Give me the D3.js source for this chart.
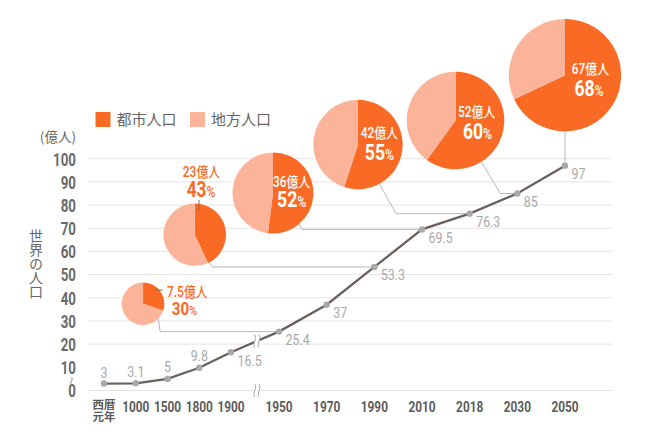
<!DOCTYPE html>
<html><head><meta charset="utf-8">
<script src="https://cdn.jsdelivr.net/npm/d3@7"></script>
<style>body{margin:0;background:#fff}svg{display:block}</style>
</head><body><svg id="c" width="665" height="448"></svg>
<script>
// ---- data ----
const categories = ["西暦元年","1000","1500","1800","1900","1950","1970","1990","2010","2018","2030","2050"];
const population = [3, 3.1, 5, 9.8, 16.5, 25.4, 37, 53.3, 69.5, 76.3, 85, 97];
const valueLabels = ["3","3.1","5","9.8","16.5","25.4","37","53.3","69.5","76.3","85","97"];
const yTicks = [0, 10, 20, 30, 40, 50, 60, 70, 80, 90, 100];
const gridTicks = [0, 20, 30, 40, 50, 60, 70, 80, 90, 100];
const pieYearIndex = [5, 7, 8, 9, 10, 11];
const urbanPop = ["7.5", "23", "36", "42", "52", "67"];
const urbanPct = [30, 43, 52, 55, 60, 68];
const legendLabels = ["都市人口", "地方人口"];

// ---- style / layout ----
const URBAN = "#F96A24", RURAL = "#FBB49A";
const NUM = "Roboto,'Noto Sans CJK JP',sans-serif";
const JP = "'Noto Sans CJK JP',sans-serif";

const svg = d3.select("#c");
const x = d3.scaleLinear().domain([0, 4, 5, 11]).range([104, 231, 279, 565]);
const y = d3.scaleLinear().domain([0, 100]).range([390.5, 158.7]);

// condensed text helper (horizontal squeeze)
function ctext(parent, tx, ty, sx, anchor) {
  return parent.append("text")
    .attr("transform", `translate(${tx},${ty}) scale(${sx},1)`)
    .attr("x", 0).attr("y", 0).attr("text-anchor", anchor);
}

const pieLayout = [
  {ix:1.23, lv:37.4, r:21.3, edge:134, elbowDx:1.7, inside:false,
   l1:[24,-6.7,"start"], l2:[28.7,11.3,"start"], pctSize:19, tick:[[12,-13.7],[19.7,-13.7]]},
  {ix:2.857, lv:67.2, r:31.3, edge:151.6, elbowDx:2.7, inside:false,
   l1:[6.8,-57.7,"middle"], l2:[6.3,-38.2,"middle"], pctSize:21.5, tick:[[4.3,-34.7],[4.3,-24.7]]},
  {ix:4.875, lv:85.2, r:40.5, edge:140, elbowDx:3, inside:true,
   l1:[18.7,-6,"middle"], l2:[18.7,13.5,"middle"], pctSize:22},
  {ix:6.657, lv:106.1, r:44.7, edge:151.4, elbowDx:16.7, inside:true,
   l1:[21.5,-6.2,"middle"], l2:[21.5,15.8,"middle"], pctSize:22},
  {ix:8.703, lv:116.5, r:48.8, edge:148, elbowDx:19, inside:true,
   l1:[21.2,-3.5,"middle"], l2:[22,19,"middle"], pctSize:22},
  {ix:11, lv:136.0, r:56.2, edge:180, elbowDx:0, inside:true,
   l1:[25.5,-1.5,"middle"], l2:[24,20.5,"middle"], pctSize:22}
];

// ---- gridlines ----
svg.append("g").selectAll("line").data(gridTicks).join("line")
  .attr("x1", 88).attr("x2", 612)
  .attr("y1", d => y(d)).attr("y2", d => y(d))
  .attr("stroke", "#e4e4e4").attr("stroke-width", 1);

// ---- y axis labels ----
const ya = svg.append("g");
yTicks.forEach(v => {
  ctext(ya, 76, y(v) + 6.8, 0.72, "end")
    .attr("font-family", NUM).attr("font-weight", "bold").attr("font-size", 18.5)
    .attr("fill", "#6a6a6a").text(v);
});

// axis squiggle below 10
svg.append("path").attr("d", "M0,-4 C2.5,-2 -2.5,2 0,4")
  .attr("transform", `translate(71.5,${y(4.0)})`)
  .attr("fill", "none").attr("stroke", "#8a8a8a").attr("stroke-width", 1);

svg.append("text").attr("x", 76).attr("y", 142).attr("text-anchor", "end")
  .attr("font-family", JP).attr("font-size", 13.5).attr("fill", "#666").text("(億人)");

// vertical title
svg.append("text").attr("x", 36).attr("y", 229)
  .style("writing-mode", "vertical-rl")
  .attr("font-family", JP).attr("font-size", 14).attr("fill", "#666").text("世界の人口");

// ---- x axis labels ----
const xa = svg.append("g");
categories.forEach((d, i) => {
  if (i === 0) {
    [d.slice(0, 2), d.slice(2)].forEach((part, j) => {
      xa.append("text").attr("x", x(i)).attr("y", 409 + j * 12).attr("text-anchor", "middle")
        .attr("font-family", JP).attr("font-weight", "bold").attr("font-size", 11.5)
        .attr("fill", "#5c5c5c").text(part);
    });
  } else {
    ctext(xa, x(i), 411.7, 0.8, "middle")
      .attr("font-family", NUM).attr("font-weight", "bold").attr("font-size", 14.8)
      .attr("fill", "#5c5c5c").text(d);
  }
});

// ---- connectors ----
const conn = svg.append("g");
pieLayout.forEach((p, k) => {
  const cx = x(p.ix), cy = y(p.lv);
  const a = p.edge * Math.PI / 180;
  const sx = cx + p.r * Math.sin(a), sy = cy - p.r * Math.cos(a);
  const idx = pieYearIndex[k];
  const ty = y(population[idx]), tx = x(idx);
  conn.append("path")
    .attr("d", d3.line()([[sx, sy], [sx + p.elbowDx, ty], [tx, ty]]))
    .attr("fill", "none").attr("stroke", "#b9b9b9").attr("stroke-width", 1);
});

// ---- line ----
const pts = population.map((v, i) => [x(i), y(v)]);
svg.append("path").attr("d", d3.line()(pts))
  .attr("fill", "none").attr("stroke", "#6b615c").attr("stroke-width", 2.3);

// break marks
function breakMark(bx, by) {
  const g = svg.append("g").attr("transform", `translate(${bx},${by})`);
  g.append("rect").attr("x", -2.5).attr("y", -7).attr("width", 5).attr("height", 14).attr("fill", "#fff");
  [-2.2, 2.2].forEach(o => g.append("path").attr("d", "M0,-6.5 C3,-3 -3,3 0,6.5")
    .attr("transform", `translate(${o},0)`)
    .attr("fill", "none").attr("stroke", "#a5a5a5").attr("stroke-width", 1));
}
const bIdx = 4.54;
const bx = x(bIdx);
const by = d3.interpolateNumber(y(population[4]), y(population[5]))(bIdx - 4);
breakMark(bx, by);
breakMark(bx, y(0));

// points
svg.append("g").selectAll("circle").data(pts).join("circle")
  .attr("cx", d => d[0]).attr("cy", d => d[1]).attr("r", 3.2).attr("fill", "#a9a9a9");

// value labels
const vl = svg.append("g");
valueLabels.forEach((d, i) => {
  const px = x(i), py = y(population[i]);
  const tx = i < 4 ? px : px + 6.5;
  const ty = i < 4 ? py - (i < 2 ? 6 : 7) : py + 13.5;
  ctext(vl, tx, ty, 0.8, i < 4 ? "middle" : "start")
    .attr("font-family", NUM).attr("font-size", 15.5).attr("fill", "#a8a8a8").text(d);
});

// ---- pies ----
const pie = d3.pie().sort(null).startAngle(0).endAngle(2 * Math.PI);
pieLayout.forEach((p, k) => {
  const cx = x(p.ix), cy = y(p.lv);
  const g = svg.append("g").attr("transform", `translate(${cx},${cy})`);
  const arc = d3.arc().innerRadius(0).outerRadius(p.r);
  g.selectAll("path").data(pie([urbanPct[k], 100 - urbanPct[k]])).join("path")
    .attr("d", arc).attr("fill", (d, i) => i === 0 ? URBAN : RURAL);
  const col = p.inside ? "#fff" : URBAN;
  if (p.tick) g.append("line")
    .attr("x1", p.tick[0][0]).attr("y1", p.tick[0][1])
    .attr("x2", p.tick[1][0]).attr("y2", p.tick[1][1])
    .attr("stroke", "#8a6a5a").attr("stroke-width", 1);
  ctext(g, p.l1[0], p.l1[1], 0.85, p.l1[2])
    .attr("font-family", NUM).attr("font-size", 14).attr("font-weight", 500)
    .attr("fill", col).text(urbanPop[k] + "億人");
  const t2 = ctext(g, p.l2[0], p.l2[1], 0.8, p.l2[2]).attr("font-family", NUM).attr("fill", col);
  t2.append("tspan").attr("font-size", p.pctSize).attr("font-weight", "bold").text(urbanPct[k]);
  t2.append("tspan").attr("font-size", p.pctSize * 0.7).attr("font-weight", 500).text("%");
});

// ---- legend ----
const lg = svg.append("g");
legendLabels.forEach((l, i) => {
  const lx = 95.5 + i * 94.5;
  lg.append("rect").attr("x", lx).attr("y", 112).attr("width", 15).attr("height", 15)
    .attr("fill", i === 0 ? URBAN : RURAL);
  lg.append("text").attr("x", lx + 21).attr("y", 125)
    .attr("font-family", JP).attr("font-size", 15).attr("fill", "#666").text(l);
});
</script></body></html>
